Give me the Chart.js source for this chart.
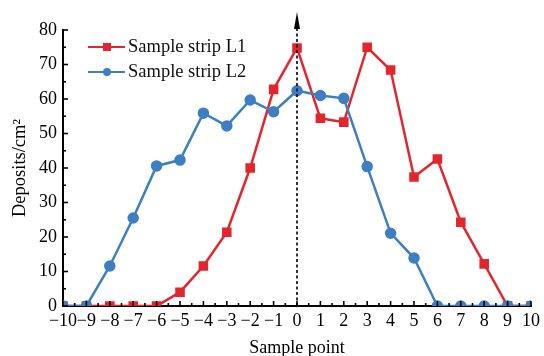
<!DOCTYPE html>
<html>
<head>
<meta charset="utf-8">
<script src="https://cdn.jsdelivr.net/npm/chart.js@4/dist/chart.umd.min.js"></script>
<style>
  html, body { margin: 0; padding: 0; background: #fff; }
  #wrap { position: relative; width: 544px; height: 356px; }
  #legend { position: absolute; left: 88px; top: 34px; font-family: "Liberation Serif", "DejaVu Serif", serif; font-size: 18.5px; color: #111; }
  .item { display: flex; align-items: center; height: 25px; }
  .sw { position: relative; width: 37px; height: 12px; margin-right: 3px; }
  .sw .ln { position: absolute; left: 0; right: 0; top: 5px; height: 2.5px; }
  .sw .mk { position: absolute; left: 15px; top: 2px; width: 8px; height: 8px; }
</style>
</head>
<body>
<div id="wrap">
  <canvas id="c" width="544" height="356"></canvas>
  <div id="legend">
    <div class="item"><div class="sw"><div class="ln" style="background:#e3262b"></div><div class="mk" style="background:#e3262b"></div></div>Sample strip L1</div>
    <div class="item"><div class="sw"><div class="ln" style="background:#3d7fc0"></div><div class="mk" style="background:#3d7fc0;border-radius:50%"></div></div>Sample strip L2</div>
  </div>
</div>
<script>
const samplePoints = [-10,-9,-8,-7,-6,-5,-4,-3,-2,-1,0,1,2,3,4,5,6,7,8,9,10];
const stripL1 = [0,0,0,0,0,4,11.6,21.4,40,62.8,74.8,54.4,53.3,75,68.4,37.4,42.6,24.3,12.2,0,0];
const stripL2 = [0,0,11.6,25.5,40.6,42.3,55.9,52.2,59.7,56.3,62.4,61,60.2,40.4,21.1,13.9,0,0,0,0,0];
const yTickValues = [0,10,20,30,40,50,60,70,80];

const RED = '#e3262b', BLUE = '#3d7fc0';
const serif = '"Liberation Serif", "DejaVu Serif", serif';

const toPts = arr => samplePoints.map((x, i) => ({x, y: arr[i]}));

const tickPlugin = {
  id: 'innerTicks',
  afterDraw(chart) {
    const ctx = chart.ctx, xs = chart.scales.x, ys = chart.scales.y;
    const ca = chart.chartArea;
    ctx.save();
    ctx.strokeStyle = '#000';
    ctx.lineWidth = 1.6;
    for (let v = -10; v <= 10; v += 0.5) {
      const px = xs.getPixelForValue(v);
      const len = Number.isInteger(v) ? 5 : 3;
      ctx.beginPath(); ctx.moveTo(px, ca.bottom); ctx.lineTo(px, ca.bottom - len); ctx.stroke();
    }
    for (let v = 0; v <= 80; v += 5) {
      const py = ys.getPixelForValue(v);
      const len = v % 10 === 0 ? 5 : 3;
      ctx.beginPath(); ctx.moveTo(ca.left, py); ctx.lineTo(ca.left + len, py); ctx.stroke();
    }
    ctx.restore();
  }
};

const arrowPlugin = {
  id: 'arrow',
  afterDatasetsDraw(chart) {
    const ctx = chart.ctx, xs = chart.scales.x, ys = chart.scales.y;
    const px = xs.getPixelForValue(0);
    const y0 = ys.getPixelForValue(0);
    const tip = 12, base = 29;
    ctx.save();
    ctx.strokeStyle = '#000';
    ctx.lineWidth = 1.6;
    ctx.setLineDash([3, 2.5]);
    ctx.beginPath(); ctx.moveTo(px, y0); ctx.lineTo(px, base); ctx.stroke();
    ctx.setLineDash([]);
    ctx.fillStyle = '#000';
    ctx.beginPath(); ctx.moveTo(px, tip); ctx.lineTo(px - 3, base); ctx.lineTo(px + 3, base); ctx.closePath(); ctx.fill();
    ctx.restore();
  }
};

new Chart(document.getElementById('c'), {
  type: 'line',
  data: {
    datasets: [
      { label: 'Sample strip L2', data: toPts(stripL2), borderColor: BLUE, backgroundColor: BLUE, borderWidth: 2.5, pointStyle: 'circle', pointRadius: 4.5, pointHoverRadius: 4.5, tension: 0, order: 0 },
      { label: 'Sample strip L1', data: toPts(stripL1), borderColor: RED, backgroundColor: RED, borderWidth: 2.5, pointStyle: 'rect', pointRadius: 5, pointHoverRadius: 5, tension: 0, order: 1 }
    ]
  },
  options: {
    responsive: false,
    animation: false,
    layout: { padding: { top: 30, right: 10, left: 0, bottom: 0 } },
    plugins: { legend: { display: false }, tooltip: { enabled: false } },
    scales: {
      x: {
        type: 'linear', min: -10, max: 10,
        afterFit(s) { s.height = 50; },
        afterBuildTicks(s) { s.ticks = samplePoints.map(v => ({value: v})); },
        grid: { display: false, drawTicks: false },
        border: { display: true, color: '#000', width: 2 },
        ticks: { padding: 4, color: '#000', font: { family: serif, size: 18 }, maxRotation: 0, autoSkip: false,
          callback: v => (v < 0 ? '\u2212' + Math.abs(v) : String(v)) },
        title: { display: true, text: 'Sample point', color: '#000', font: { family: serif, size: 18 }, padding: { top: 0, bottom: -3 } }
      },
      y: {
        min: 0, max: 80,
        afterFit(s) { s.width = 63; },
        afterBuildTicks(s) { s.ticks = yTickValues.map(v => ({value: v})); },
        grid: { display: false, drawTicks: false },
        border: { display: true, color: '#000', width: 2 },
        ticks: { padding: 6, color: '#000', font: { family: serif, size: 18 } },
        title: { display: true, text: 'Deposits/cm\u00B2', color: '#000', font: { family: serif, size: 18.5 }, padding: { top: 9, bottom: 0 } }
      }
    }
  },
  plugins: [tickPlugin, arrowPlugin]
});
</script>
</body>
</html>
